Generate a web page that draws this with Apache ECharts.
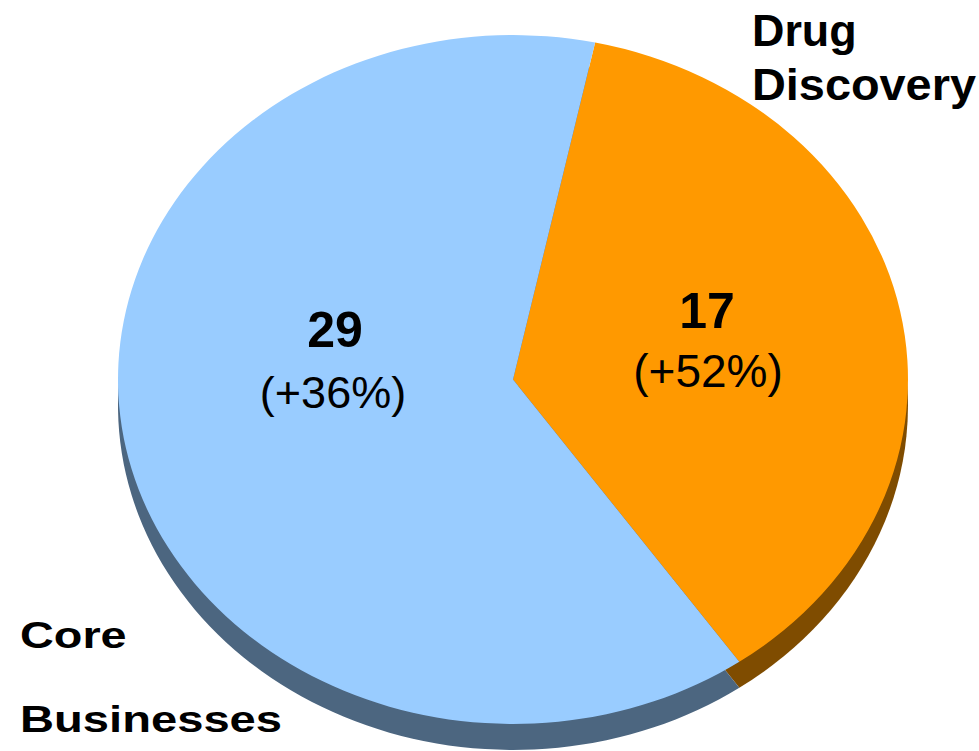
<!DOCTYPE html>
<html>
<head>
<meta charset="utf-8">
<title>Revenue split</title>
<script src="https://cdn.jsdelivr.net/npm/echarts@6.0.0/dist/echarts.min.js"></script>
<style>
  html, body { margin: 0; padding: 0; background: #ffffff; overflow: hidden; }
  #stage { position: relative; width: 979px; height: 751px; }
  #pie { position: absolute; left: 0; top: 0; width: 979px; transform-origin: 0 0; }
  #labels { position: absolute; left: 0; top: 0; width: 979px; height: 751px; }
</style>
</head>
<body>
<div id="stage">
  <div id="pie"></div>
  <div id="labels"></div>
</div>
<script>
// Segments, in drawing order (clockwise from the start angle)
const categories = ['Drug Discovery', 'Core Businesses'];
const values = [17, 29];
const growth = ['+52%', '+36%'];
const nameLines = [['Drug', 'Discovery'], ['Core', 'Businesses']];

// Face and side colours of each segment
const faceColors = ['#FF9900', '#99CCFF'];
const sideColors = ['#7F4C00', '#4C6680'];

// Tilt: the circular pie is squashed vertically into an ellipse
const tilt = 0.872;
const depth = 26;          // thickness of the disc, in screen px
const cx = 513, cy = 379.5, r = 395;
const pieHeight = Math.round(751 / tilt);

const pieEl = document.getElementById('pie');
pieEl.style.height = pieHeight + 'px';
pieEl.style.transform = 'scaleY(' + tilt + ')';

const pieChart = echarts.init(pieEl, null, { renderer: 'svg' });

function pieLayer(colors, offsetY) {
  return {
    type: 'pie',
    radius: [0, r],
    center: [cx, (cy + offsetY) / tilt],
    startAngle: 78,
    clockwise: true,
    silent: true,
    animation: false,
    label: { show: false },
    labelLine: { show: false },
    emphasis: { disabled: true },
    itemStyle: { borderWidth: 0 },
    data: categories.map((c, i) => ({
      name: c,
      value: values[i],
      itemStyle: { color: colors[i] }
    }))
  };
}

pieChart.setOption({
  animation: false,
  series: [pieLayer(sideColors, depth), pieLayer(faceColors, 0)]
});

// Text overlay (kept unsquashed)
const labelChart = echarts.init(document.getElementById('labels'), null, { renderer: 'svg' });
const font = '"Liberation Sans", Arial, Helvetica, sans-serif';

function text(str, x, y, opts) {
  return {
    type: 'text',
    x: x,
    y: y,
    scaleX: opts.scaleX || 1,
    silent: true,
    style: {
      text: str,
      x: 0,
      y: 0,
      fill: '#000000',
      font: (opts.bold ? 'bold ' : '') + opts.size + 'px ' + font,
      align: opts.align || 'center',
      verticalAlign: 'middle'
    }
  };
}

const elements = [
  // value and growth inside each slice
  text(String(values[1]), 335, 330, { bold: true, size: 50 }),
  text('(' + growth[1] + ')', 333, 392, { size: 45 }),
  text(String(values[0]), 707, 311, { bold: true, size: 50 }),
  text('(' + growth[0] + ')', 708, 371, { size: 46 }),
  // segment names
  text(nameLines[0][0], 752, 31, { bold: true, size: 44, align: 'left', scaleX: 1.02 }),
  text(nameLines[0][1], 752, 85, { bold: true, size: 44, align: 'left', scaleX: 1.065 }),
  text(nameLines[1][0], 20, 635, { bold: true, size: 36, align: 'left', scaleX: 1.3 }),
  text(nameLines[1][1], 20, 720, { bold: true, size: 36, align: 'left', scaleX: 1.31 })
];

labelChart.setOption({
  animation: false,
  graphic: { elements: elements }
});
</script>
</body>
</html>
